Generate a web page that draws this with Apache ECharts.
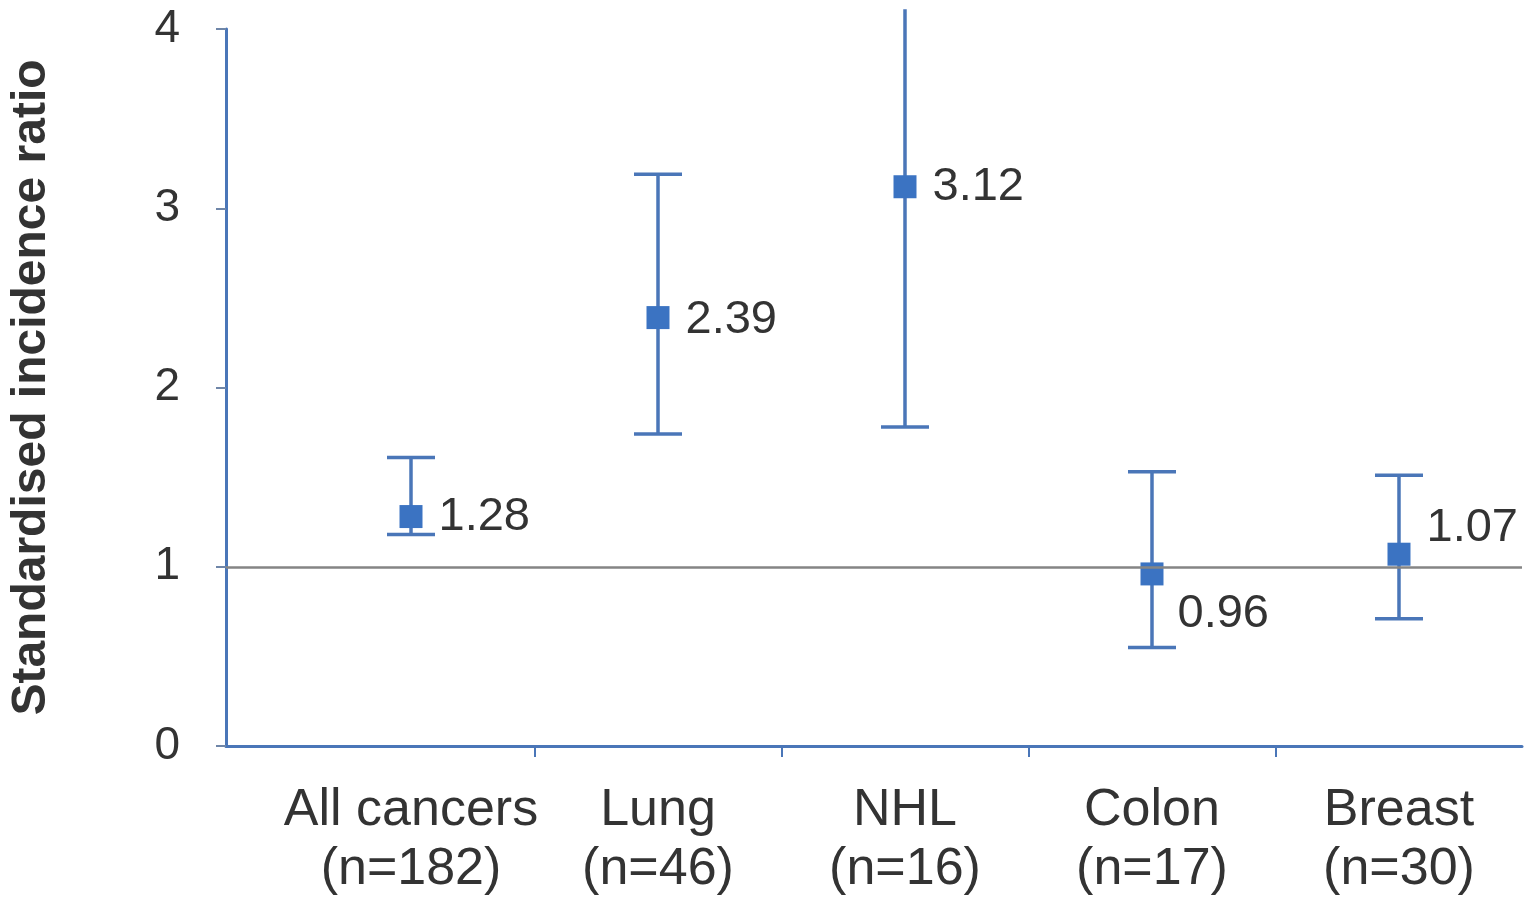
<!DOCTYPE html>
<html>
<head>
<meta charset="utf-8">
<style>
  html, body { margin: 0; padding: 0; background: #ffffff; }
  #chart { width: 1524px; height: 899px; }
</style>
<script src="https://cdn.jsdelivr.net/npm/echarts@6/dist/echarts.min.js"></script>
</head>
<body>
<div id="chart"></div>
<script>
// Cancer sites and case counts
const sites = ['All cancers', 'Lung', 'NHL', 'Colon', 'Breast'];
const caseCounts = [182, 46, 16, 17, 30];
// Standardised incidence ratios with 95% confidence limits
const sir = [1.28, 2.39, 3.12, 0.96, 1.07];
const lowerCI = [1.18, 1.74, 1.78, 0.55, 0.71];
const upperCI = [1.61, 3.19, 4.11, 1.53, 1.51];
// Y axis ticks
const yTicks = [0, 1, 2, 3, 4];

const BLUE = '#4a76b8';
const MARK = '#3b73c2';
const TEXT = '#333333';
const FONT = '"Liberation Sans", Arial, sans-serif';

// Where each value label sits relative to its marker
const labelPlacement = [
  { position: 'right', offset: [2, 0] },
  { position: 'right', offset: [2, 2] },
  { position: 'right', offset: [2, 0] },
  { position: 'right', offset: [0, 40] },
  { position: 'right', offset: [2, -26] }
];

const chart = echarts.init(document.getElementById('chart'), null, { renderer: 'canvas' });

const errorData = sites.map((s, i) => [i, lowerCI[i], upperCI[i]]);
const pointData = sites.map((s, i) => ({
  value: [i, sir[i]],
  label: Object.assign({}, labelPlacement[i])
}));

const option = {
  backgroundColor: '#ffffff',
  animation: false,
  grid: { left: 226, right: 2, top: 29, bottom: 145, containLabel: false },
  xAxis: {
    type: 'value',
    min: -0.749,
    max: 4.498,
    axisLine: { show: true, onZero: false, lineStyle: { color: BLUE, width: 3 } },
    axisTick: {
      show: true,
      customValues: [0.5, 1.5, 2.5, 3.5],
      length: 11,
      lineStyle: { color: BLUE, width: 2 }
    },
    axisLabel: {
      customValues: sites.map((s, i) => i),
      formatter: v => {
        const i = Math.round(v);
        return sites[i] + '\n(n=' + caseCounts[i] + ')';
      },
      color: TEXT,
      fontFamily: FONT,
      fontSize: 52,
      lineHeight: 59,
      margin: 35
    },
    splitLine: { show: false }
  },
  yAxis: {
    type: 'value',
    min: yTicks[0],
    max: yTicks[yTicks.length - 1],
    interval: 1,
    name: 'Standardised incidence ratio',
    nameLocation: 'middle',
    nameGap: 170,
    nameTextStyle: { color: TEXT, fontFamily: FONT, fontSize: 48, fontWeight: 'bold' },
    axisLine: { show: true, onZero: false, lineStyle: { color: BLUE, width: 3 } },
    axisTick: { show: true, length: 10, lineStyle: { color: '#6f86a8', width: 2 } },
    axisLabel: { color: TEXT, fontFamily: FONT, fontSize: 46, margin: 46 },
    splitLine: { show: false }
  },
  series: [
    {
      // confidence interval whiskers
      type: 'custom',
      clip: false,
      z: 3,
      data: errorData,
      renderItem: (params, api) => {
        const x = api.value(0);
        const lo = api.coord([x, api.value(1)]);
        const hi = api.coord([x, api.value(2)]);
        const capHalf = 24;
        const style = { stroke: BLUE, lineWidth: 3.5 };
        const children = [
          { type: 'line', shape: { x1: lo[0], y1: lo[1], x2: hi[0], y2: hi[1] }, style }
        ];
        children.push({ type: 'line', shape: { x1: lo[0] - capHalf, y1: lo[1], x2: lo[0] + capHalf, y2: lo[1] }, style });
        if (api.value(2) <= 4) {
          children.push({ type: 'line', shape: { x1: hi[0] - capHalf, y1: hi[1], x2: hi[0] + capHalf, y2: hi[1] }, style });
        }
        return { type: 'group', children };
      }
    },
    {
      // point estimates
      type: 'scatter',
      z: 4,
      symbol: 'rect',
      symbolSize: 23,
      itemStyle: { color: MARK, opacity: 1 },
      data: pointData,
      label: {
        show: true,
        formatter: p => p.value[1].toFixed(2),
        color: TEXT,
        fontFamily: FONT,
        fontSize: 47,
        distance: 14
      },
      markLine: {
        silent: true,
        symbol: 'none',
        label: { show: false },
        lineStyle: { color: '#858585', width: 2.5, type: 'solid' },
        data: [{ yAxis: 1 }]
      }
    }
  ]
};

chart.setOption(option);
</script>
</body>
</html>
